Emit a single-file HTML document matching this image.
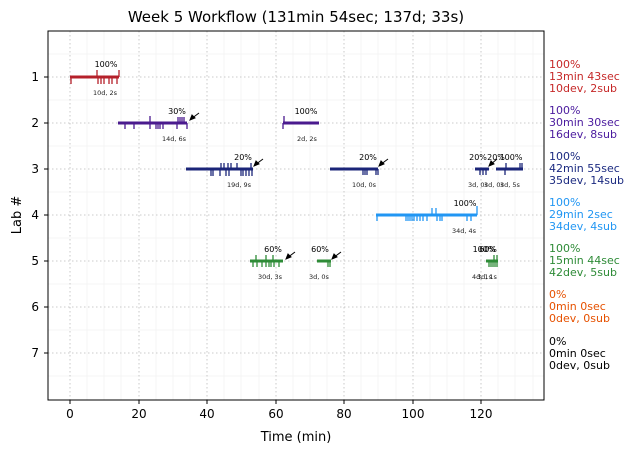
<!DOCTYPE html>
<html><head><style>body{margin:0;background:#fff}svg{display:block;font-family:"DejaVu Sans","Liberation Sans",sans-serif}</style></head><body>
<svg width="634" height="453" viewBox="0 0 634 453" xmlns="http://www.w3.org/2000/svg">
<rect width="634" height="453" fill="#fff"/>
<text x="296" y="22" font-size="15" text-anchor="middle">Week 5 Workflow (131min 54sec; 137d; 33s)</text>
<!-- minor grid -->
<g stroke="#eee" stroke-width="0.6">
<line x1="87" y1="31" x2="87" y2="400"/><line x1="104" y1="31" x2="104" y2="400"/><line x1="121" y1="31" x2="121" y2="400"/>
<line x1="156" y1="31" x2="156" y2="400"/><line x1="173" y1="31" x2="173" y2="400"/><line x1="190" y1="31" x2="190" y2="400"/>
<line x1="224" y1="31" x2="224" y2="400"/><line x1="241" y1="31" x2="241" y2="400"/><line x1="259" y1="31" x2="259" y2="400"/>
<line x1="293" y1="31" x2="293" y2="400"/><line x1="310" y1="31" x2="310" y2="400"/><line x1="327" y1="31" x2="327" y2="400"/>
<line x1="361" y1="31" x2="361" y2="400"/><line x1="378" y1="31" x2="378" y2="400"/><line x1="396" y1="31" x2="396" y2="400"/>
<line x1="430" y1="31" x2="430" y2="400"/><line x1="447" y1="31" x2="447" y2="400"/><line x1="464" y1="31" x2="464" y2="400"/>
<line x1="498" y1="31" x2="498" y2="400"/><line x1="515" y1="31" x2="515" y2="400"/><line x1="533" y1="31" x2="533" y2="400"/>
<line x1="48" y1="54" x2="544" y2="54"/><line x1="48" y1="100" x2="544" y2="100"/><line x1="48" y1="146" x2="544" y2="146"/><line x1="48" y1="192" x2="544" y2="192"/><line x1="48" y1="238" x2="544" y2="238"/><line x1="48" y1="284" x2="544" y2="284"/><line x1="48" y1="330" x2="544" y2="330"/><line x1="48" y1="376" x2="544" y2="376"/>
</g>
<g stroke="#bbb" stroke-width="0.8" stroke-dasharray="1.5,2.5">
<line x1="70" y1="31" x2="70" y2="400"/><line x1="139" y1="31" x2="139" y2="400"/><line x1="207" y1="31" x2="207" y2="400"/><line x1="276" y1="31" x2="276" y2="400"/><line x1="344" y1="31" x2="344" y2="400"/><line x1="413" y1="31" x2="413" y2="400"/><line x1="481" y1="31" x2="481" y2="400"/>
<line x1="48" y1="77" x2="544" y2="77"/><line x1="48" y1="123" x2="544" y2="123"/><line x1="48" y1="169" x2="544" y2="169"/><line x1="48" y1="215" x2="544" y2="215"/><line x1="48" y1="261" x2="544" y2="261"/><line x1="48" y1="307" x2="544" y2="307"/><line x1="48" y1="353" x2="544" y2="353"/>
</g>
<rect x="48" y="31" width="496" height="369" fill="none" stroke="#000" stroke-width="1"/>
<g stroke="#000"><line x1="70" y1="400" x2="70" y2="404"/><line x1="139" y1="400" x2="139" y2="404"/><line x1="207" y1="400" x2="207" y2="404"/><line x1="276" y1="400" x2="276" y2="404"/><line x1="344" y1="400" x2="344" y2="404"/><line x1="413" y1="400" x2="413" y2="404"/><line x1="481" y1="400" x2="481" y2="404"/>
<line x1="44" y1="77" x2="48" y2="77"/><line x1="44" y1="123" x2="48" y2="123"/><line x1="44" y1="169" x2="48" y2="169"/><line x1="44" y1="215" x2="48" y2="215"/><line x1="44" y1="261" x2="48" y2="261"/><line x1="44" y1="307" x2="48" y2="307"/><line x1="44" y1="353" x2="48" y2="353"/></g>
<g font-size="12" text-anchor="middle"><text x="70" y="418">0</text><text x="139" y="418">20</text><text x="207" y="418">40</text><text x="276" y="418">60</text><text x="344" y="418">80</text><text x="413" y="418">100</text><text x="481" y="418">120</text></g>
<g font-size="12" text-anchor="end"><text x="39" y="81">1</text><text x="39" y="127">2</text><text x="39" y="173">3</text><text x="39" y="219">4</text><text x="39" y="265">5</text><text x="39" y="311">6</text><text x="39" y="357">7</text></g>
<text x="296" y="441" font-size="13" text-anchor="middle">Time (min)</text>
<text x="21" y="215" font-size="13" text-anchor="middle" transform="rotate(-90 21 215)">Lab #</text>
<!-- bars -->
<g stroke-width="3">
<line x1="70" y1="77" x2="119" y2="77" stroke="#b5202a"/>
<line x1="118" y1="123" x2="187" y2="123" stroke="#4a1a8e"/>
<line x1="283" y1="123" x2="319" y2="123" stroke="#4a1a8e"/>
<line x1="186" y1="169" x2="253" y2="169" stroke="#1b2578"/>
<line x1="330" y1="169" x2="378" y2="169" stroke="#1b2578"/>
<line x1="475" y1="169" x2="489" y2="169" stroke="#1b2578"/>
<line x1="496" y1="169" x2="523" y2="169" stroke="#1b2578"/>
<line x1="376" y1="215" x2="477" y2="215" stroke="#2196f3"/>
<line x1="250" y1="261" x2="283" y2="261" stroke="#2e8b37"/>
<line x1="317" y1="261" x2="331" y2="261" stroke="#2e8b37"/>
<line x1="486" y1="261" x2="498" y2="261" stroke="#2e8b37"/>
</g>
<g stroke-width="1.3">
<path stroke="#b5202a" d="M71 77v7M98 77v7M101 77v7M104 77v7M109 77v7M112 77v7M117 77v7M97 77v-7M119 77v-7"/>
<path stroke="#4a1a8e" d="M125 123v6M134 123v6M150 123v6M156 123v6M158 123v6M160 123v6M163 123v6M177 123v6M187 123v6M150 123v-7M178 123v-6M180 123v-6M182 123v-6M184 123v-6M283 123v6M284 123v-7"/>
<path stroke="#1b2578" d="M211 169v7M213 169v7M220 169v7M226 169v7M229 169v7M241 169v7M243 169v7M246 169v7M249 169v7M252 169v7M221 169v-6M224 169v-6M228 169v-6M231 169v-6M237 169v-6M251 169v-6M363 169v6M365 169v6M367 169v6M376 169v6M378 169v6M480 169v6M483 169v6M486 169v6M505 169v6M506 169v-6M520 169v-6M522 169v-6"/>
<path stroke="#2196f3" d="M377 215v6M406 215v6M408 215v6M410 215v6M412 215v6M414 215v6M417 215v6M420 215v6M423 215v6M427 215v6M437 215v6M440 215v6M442 215v6M467 215v6M471 215v6M432 215v-7M436 215v-7M477 215v-9"/>
<path stroke="#2e8b37" d="M253 261v6M257 261v6M262 261v6M266 261v6M269 261v6M271 261v6M274 261v6M279 261v6M256 261v-6M266 261v-6M273 261v-6M328 261v6M330 261v6M489 261v6M491 261v6M493 261v6M495 261v6M497 261v6M494 261v-6M497 261v-6"/>
</g>
<!-- arrows -->
<g stroke="#000" stroke-width="1" fill="#000">
<line x1="199" y1="113" x2="191" y2="119"/><path d="M190 120l2-5 3 3z"/>
<line x1="263" y1="159" x2="255" y2="165"/><path d="M254 166l2-5 3 3z"/>
<line x1="388" y1="159" x2="380" y2="165"/><path d="M379 166l2-5 3 3z"/>
<line x1="497" y1="159" x2="490" y2="165"/><path d="M489 166l2-5 3 3z"/>
<line x1="295" y1="252" x2="287" y2="258"/><path d="M286 259l2-5 3 3z"/>
<line x1="341" y1="252" x2="333" y2="258"/><path d="M332 259l2-5 3 3z"/>
</g>
<g font-size="8" text-anchor="middle">
<text x="106" y="67">100%</text><text x="177" y="114">30%</text><text x="306" y="114">100%</text>
<text x="243" y="160">20%</text><text x="368" y="160">20%</text><text x="478" y="160">20%</text><text x="496" y="160">20%</text><text x="511" y="160">100%</text>
<text x="465" y="206">100%</text><text x="273" y="252">60%</text><text x="320" y="252">60%</text><text x="484" y="252">100%</text><text x="488" y="252">60%</text>
</g>
<g font-size="6.5" text-anchor="middle" fill="#222">
<text x="105" y="95">10d, 2s</text><text x="174" y="141">14d, 6s</text><text x="307" y="141">2d, 2s</text>
<text x="239" y="187">19d, 9s</text><text x="364" y="187">10d, 0s</text><text x="478" y="187">3d, 0s</text><text x="494" y="187">3d, 0s</text><text x="510" y="187">3d, 5s</text>
<text x="464" y="233">34d, 4s</text><text x="270" y="279">30d, 3s</text><text x="319" y="279">3d, 0s</text><text x="482" y="279">4d, 1s</text><text x="487" y="279">3d, 1s</text>
</g>
<g font-size="11">
<g fill="#c62828"><text x="549" y="68">100%</text><text x="549" y="80">13min 43sec</text><text x="549" y="92">10dev, 2sub</text></g>
<g fill="#4a1a9e"><text x="549" y="114">100%</text><text x="549" y="126">30min 30sec</text><text x="549" y="138">16dev, 8sub</text></g>
<g fill="#1b2a80"><text x="549" y="160">100%</text><text x="549" y="172">42min 55sec</text><text x="549" y="184">35dev, 14sub</text></g>
<g fill="#2196f3"><text x="549" y="206">100%</text><text x="549" y="218">29min 2sec</text><text x="549" y="230">34dev, 4sub</text></g>
<g fill="#2e8b37"><text x="549" y="252">100%</text><text x="549" y="264">15min 44sec</text><text x="549" y="276">42dev, 5sub</text></g>
<g fill="#e65100"><text x="549" y="298">0%</text><text x="549" y="310">0min 0sec</text><text x="549" y="322">0dev, 0sub</text></g>
<g fill="#000"><text x="549" y="345">0%</text><text x="549" y="357">0min 0sec</text><text x="549" y="369">0dev, 0sub</text></g>
</g>
</svg>
</body></html>
